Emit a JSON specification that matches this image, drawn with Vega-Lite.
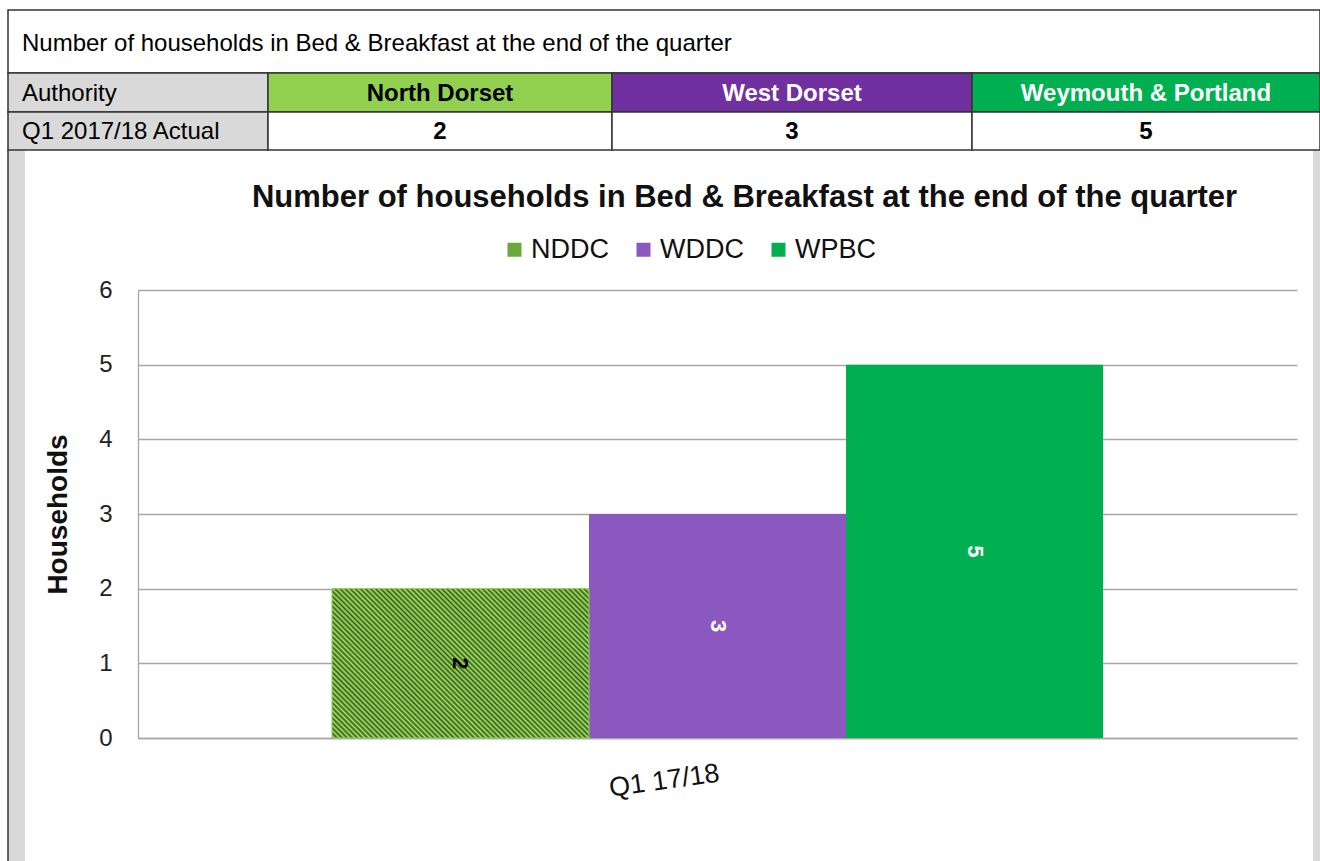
{
"$schema":"https://vega.github.io/schema/vega-lite/v6.json",
"background":"white",
"padding":{"left":7,"top":9,"right":0,"bottom":0},
"config":{"font":"Liberation Sans","view":{"stroke":null}},
"datasets":{
"authorities":[
{"authority":"North Dorset","code":"NDDC","quarter":"Q1 17/18","households":2,"c0":1,"c1":2},
{"authority":"West Dorset","code":"WDDC","quarter":"Q1 17/18","households":3,"c0":2,"c1":3},
{"authority":"Weymouth & Portland","code":"WPBC","quarter":"Q1 17/18","households":5,"c0":3,"c1":4}
],
"tabletext":[{"title":"Number of households in Bed & Breakfast at the end of the quarter","header":"Authority","rowlabel":"Q1 2017/18 Actual"}]
},
"vconcat":[
{
"width":1182,"height":140,
"layer":[
{"data":{"name":"tabletext"},"mark":{"type":"rect","fill":"#d9d9d9"},
"encoding":{"x":{"datum":0,"type":"quantitative","scale":{"domain":[0,0.05,1,2,3,3.98,4],"range":[-130,-113,130,474,834,1175,1182],"nice":false,"zero":false},"axis":null},"x2":{"datum":0.05},
"y":{"datum":3,"type":"quantitative","scale":{"domain":[0,1,2,3,4],"range":[0,63,102,140,851],"nice":false,"zero":false},"axis":null},"y2":{"datum":4}}},
{"data":{"name":"tabletext"},"mark":{"type":"rect","fill":"#d9d9d9"},
"encoding":{"x":{"datum":3.98,"type":"quantitative","axis":null},"x2":{"datum":4},"y":{"datum":3,"type":"quantitative","axis":null},"y2":{"datum":4}}},
{"data":{"name":"tabletext"},"mark":{"type":"rule","stroke":"#333333","strokeWidth":1.5},
"encoding":{"x":{"datum":0,"type":"quantitative","axis":null},"y":{"datum":3,"type":"quantitative","axis":null},"y2":{"datum":4}}},
{"data":{"name":"tabletext"},"mark":{"type":"rect","fill":"white","stroke":"#333333","strokeWidth":1.5},
"encoding":{"x":{"datum":0,"type":"quantitative","axis":null},"x2":{"datum":4},"y":{"datum":0,"type":"quantitative","axis":null},"y2":{"datum":1}}},
{"data":{"name":"tabletext"},"mark":{"type":"text","align":"left","baseline":"middle","dx":14,"dy":2,"fontSize":24,"color":"#000000"},
"encoding":{"x":{"datum":0,"type":"quantitative","axis":null},"y":{"datum":0.5,"type":"quantitative","axis":null},"text":{"field":"title"}}},
{"data":{"name":"tabletext"},"mark":{"type":"rect","fill":"#d9d9d9","stroke":"#333333","strokeWidth":1.5},
"encoding":{"x":{"datum":0,"type":"quantitative","axis":null},"x2":{"datum":1},"y":{"datum":1,"type":"quantitative","axis":null},"y2":{"datum":2}}},
{"data":{"name":"tabletext"},"mark":{"type":"text","align":"left","baseline":"middle","dx":14,"dy":1,"fontSize":24,"color":"#000000"},
"encoding":{"x":{"datum":0,"type":"quantitative","axis":null},"y":{"datum":1.5,"type":"quantitative","axis":null},"text":{"field":"header"}}},
{"data":{"name":"tabletext"},"mark":{"type":"rect","fill":"#d9d9d9","stroke":"#333333","strokeWidth":1.5},
"encoding":{"x":{"datum":0,"type":"quantitative","axis":null},"x2":{"datum":1},"y":{"datum":2,"type":"quantitative","axis":null},"y2":{"datum":3}}},
{"data":{"name":"tabletext"},"mark":{"type":"text","align":"left","baseline":"middle","dx":14,"dy":1,"fontSize":24,"color":"#000000"},
"encoding":{"x":{"datum":0,"type":"quantitative","axis":null},"y":{"datum":2.5,"type":"quantitative","axis":null},"text":{"field":"rowlabel"}}},
{"data":{"name":"authorities"},"mark":{"type":"rect","stroke":"#333333","strokeWidth":1.5},
"encoding":{"x":{"field":"c0","type":"quantitative","axis":null},"x2":{"field":"c1"},"y":{"datum":1,"type":"quantitative","axis":null},"y2":{"datum":2},
"fill":{"field":"authority","type":"nominal","scale":{"domain":["North Dorset","West Dorset","Weymouth & Portland"],"range":["#92d050","#7030a0","#00b050"]},"legend":null}}},
{"data":{"name":"authorities"},"transform":[{"calculate":"(datum.c0 + datum.c1) / 2","as":"cm"}],"mark":{"type":"text","align":"center","baseline":"middle","dy":1,"fontSize":24,"fontWeight":"bold"},
"encoding":{"x":{"field":"cm","type":"quantitative","axis":null},"y":{"datum":1.5,"type":"quantitative","axis":null},"text":{"field":"authority"},
"color":{"condition":{"test":"datum.code === 'NDDC'","value":"#000000"},"value":"#ffffff"}}},
{"data":{"name":"authorities"},"mark":{"type":"rect","fill":"white","stroke":"#333333","strokeWidth":1.5},
"encoding":{"x":{"field":"c0","type":"quantitative","axis":null},"x2":{"field":"c1"},"y":{"datum":2,"type":"quantitative","axis":null},"y2":{"datum":3}}},
{"data":{"name":"authorities"},"transform":[{"calculate":"(datum.c0 + datum.c1) / 2","as":"cm"}],"mark":{"type":"text","align":"center","baseline":"middle","dy":1,"fontSize":24,"fontWeight":"bold","color":"#000000"},
"encoding":{"x":{"field":"cm","type":"quantitative","axis":null},"y":{"datum":2.5,"type":"quantitative","axis":null},"text":{"field":"households"}}}
]
},
{
"width":1159,"height":448,
"data":{"name":"authorities"},
"title":{"text":"Number of households in Bed & Breakfast at the end of the quarter","fontSize":31,"fontWeight":"bold","color":"#111111","anchor":"middle","frame":"group","dx":27,"offset":22,"font":"Liberation Sans"},
"encoding":{
"x":{"field":"quarter","type":"nominal","title":null,"scale":{"paddingOuter":0.2516,"paddingInner":0},
"axis":{"labelAngle":-8,"labelAlign":"right","labelBaseline":"top","labelFontSize":27,"labelPadding":22,"labelColor":"#111111","ticks":false,"domainColor":"#a6a6a6","domainWidth":1.3,"grid":false}},
"xOffset":{"field":"code","type":"nominal","scale":{"domain":["NDDC","WDDC","WPBC"],"paddingInner":0,"paddingOuter":0}}
},
"layer":[
{"mark":{"type":"bar"},
"encoding":{
"y":{"field":"households","type":"quantitative","stack":null,"scale":{"domain":[0,6],"nice":false},
"axis":{"title":"Households","format":"d","titleFontSize":28,"titleFontWeight":"bold","titleColor":"#111111","titlePadding":26,"labelFontSize":24,"labelPadding":26,"labelColor":"#222222","ticks":false,"values":[0,1,2,3,4,5,6],"gridColor":"#a6a6a6","gridWidth":1.3,"domainColor":"#a6a6a6","domainWidth":1.3}},
"color":{"field":"code","type":"nominal","scale":{"domain":["NDDC","WDDC","WPBC"],"range":["#6aa83c","#8a58bf","#00b050"]},
"legend":{"orient":"none","legendX":363,"legendY":-54,"direction":"horizontal","title":null,"labelFontSize":27,"labelColor":"#111111","labelFont":"Liberation Sans","symbolType":"square","symbolSize":196,"symbolStrokeWidth":0,"labelOffset":3,"columnPadding":21}}}},
{"transform":[{"filter":"datum.code === 'NDDC'"}],
"mark":{"type":"bar","stroke":"#92d050","strokeWidth":1,"fill":{"gradient":"linear","x1":0,"y1":1,"x2":1.182,"y2":0.312,"stops":[
{"offset":0,"color":"#3a581f"},{"offset":0.00625,"color":"#9ee85e"},{"offset":0.0125,"color":"#3a581f"},{"offset":0.01875,"color":"#9ee85e"},
{"offset":0.025,"color":"#3a581f"},{"offset":0.03125,"color":"#9ee85e"},{"offset":0.0375,"color":"#3a581f"},{"offset":0.04375,"color":"#9ee85e"},
{"offset":0.05,"color":"#3a581f"},{"offset":0.05625,"color":"#9ee85e"},{"offset":0.0625,"color":"#3a581f"},{"offset":0.06875,"color":"#9ee85e"},
{"offset":0.075,"color":"#3a581f"},{"offset":0.08125,"color":"#9ee85e"},{"offset":0.0875,"color":"#3a581f"},{"offset":0.09375,"color":"#9ee85e"},
{"offset":0.1,"color":"#3a581f"},{"offset":0.10625,"color":"#9ee85e"},{"offset":0.1125,"color":"#3a581f"},{"offset":0.11875,"color":"#9ee85e"},
{"offset":0.125,"color":"#3a581f"},{"offset":0.13125,"color":"#9ee85e"},{"offset":0.1375,"color":"#3a581f"},{"offset":0.14375,"color":"#9ee85e"},
{"offset":0.15,"color":"#3a581f"},{"offset":0.15625,"color":"#9ee85e"},{"offset":0.1625,"color":"#3a581f"},{"offset":0.16875,"color":"#9ee85e"},
{"offset":0.175,"color":"#3a581f"},{"offset":0.18125,"color":"#9ee85e"},{"offset":0.1875,"color":"#3a581f"},{"offset":0.19375,"color":"#9ee85e"},
{"offset":0.2,"color":"#3a581f"},{"offset":0.20625,"color":"#9ee85e"},{"offset":0.2125,"color":"#3a581f"},{"offset":0.21875,"color":"#9ee85e"},
{"offset":0.225,"color":"#3a581f"},{"offset":0.23125,"color":"#9ee85e"},{"offset":0.2375,"color":"#3a581f"},{"offset":0.24375,"color":"#9ee85e"},
{"offset":0.25,"color":"#3a581f"},{"offset":0.25625,"color":"#9ee85e"},{"offset":0.2625,"color":"#3a581f"},{"offset":0.26875,"color":"#9ee85e"},
{"offset":0.275,"color":"#3a581f"},{"offset":0.28125,"color":"#9ee85e"},{"offset":0.2875,"color":"#3a581f"},{"offset":0.29375,"color":"#9ee85e"},
{"offset":0.3,"color":"#3a581f"},{"offset":0.30625,"color":"#9ee85e"},{"offset":0.3125,"color":"#3a581f"},{"offset":0.31875,"color":"#9ee85e"},
{"offset":0.325,"color":"#3a581f"},{"offset":0.33125,"color":"#9ee85e"},{"offset":0.3375,"color":"#3a581f"},{"offset":0.34375,"color":"#9ee85e"},
{"offset":0.35,"color":"#3a581f"},{"offset":0.35625,"color":"#9ee85e"},{"offset":0.3625,"color":"#3a581f"},{"offset":0.36875,"color":"#9ee85e"},
{"offset":0.375,"color":"#3a581f"},{"offset":0.38125,"color":"#9ee85e"},{"offset":0.3875,"color":"#3a581f"},{"offset":0.39375,"color":"#9ee85e"},
{"offset":0.4,"color":"#3a581f"},{"offset":0.40625,"color":"#9ee85e"},{"offset":0.4125,"color":"#3a581f"},{"offset":0.41875,"color":"#9ee85e"},
{"offset":0.425,"color":"#3a581f"},{"offset":0.43125,"color":"#9ee85e"},{"offset":0.4375,"color":"#3a581f"},{"offset":0.44375,"color":"#9ee85e"},
{"offset":0.45,"color":"#3a581f"},{"offset":0.45625,"color":"#9ee85e"},{"offset":0.4625,"color":"#3a581f"},{"offset":0.46875,"color":"#9ee85e"},
{"offset":0.475,"color":"#3a581f"},{"offset":0.48125,"color":"#9ee85e"},{"offset":0.4875,"color":"#3a581f"},{"offset":0.49375,"color":"#9ee85e"},
{"offset":0.5,"color":"#3a581f"},{"offset":0.50625,"color":"#9ee85e"},{"offset":0.5125,"color":"#3a581f"},{"offset":0.51875,"color":"#9ee85e"},
{"offset":0.525,"color":"#3a581f"},{"offset":0.53125,"color":"#9ee85e"},{"offset":0.5375,"color":"#3a581f"},{"offset":0.54375,"color":"#9ee85e"},
{"offset":0.55,"color":"#3a581f"},{"offset":0.55625,"color":"#9ee85e"},{"offset":0.5625,"color":"#3a581f"},{"offset":0.56875,"color":"#9ee85e"},
{"offset":0.575,"color":"#3a581f"},{"offset":0.58125,"color":"#9ee85e"},{"offset":0.5875,"color":"#3a581f"},{"offset":0.59375,"color":"#9ee85e"},
{"offset":0.6,"color":"#3a581f"},{"offset":0.60625,"color":"#9ee85e"},{"offset":0.6125,"color":"#3a581f"},{"offset":0.61875,"color":"#9ee85e"},
{"offset":0.625,"color":"#3a581f"},{"offset":0.63125,"color":"#9ee85e"},{"offset":0.6375,"color":"#3a581f"},{"offset":0.64375,"color":"#9ee85e"},
{"offset":0.65,"color":"#3a581f"},{"offset":0.65625,"color":"#9ee85e"},{"offset":0.6625,"color":"#3a581f"},{"offset":0.66875,"color":"#9ee85e"},
{"offset":0.675,"color":"#3a581f"},{"offset":0.68125,"color":"#9ee85e"},{"offset":0.6875,"color":"#3a581f"},{"offset":0.69375,"color":"#9ee85e"},
{"offset":0.7,"color":"#3a581f"},{"offset":0.70625,"color":"#9ee85e"},{"offset":0.7125,"color":"#3a581f"},{"offset":0.71875,"color":"#9ee85e"},
{"offset":0.725,"color":"#3a581f"},{"offset":0.73125,"color":"#9ee85e"},{"offset":0.7375,"color":"#3a581f"},{"offset":0.74375,"color":"#9ee85e"},
{"offset":0.75,"color":"#3a581f"},{"offset":0.75625,"color":"#9ee85e"},{"offset":0.7625,"color":"#3a581f"},{"offset":0.76875,"color":"#9ee85e"},
{"offset":0.775,"color":"#3a581f"},{"offset":0.78125,"color":"#9ee85e"},{"offset":0.7875,"color":"#3a581f"},{"offset":0.79375,"color":"#9ee85e"},
{"offset":0.8,"color":"#3a581f"},{"offset":0.80625,"color":"#9ee85e"},{"offset":0.8125,"color":"#3a581f"},{"offset":0.81875,"color":"#9ee85e"},
{"offset":0.825,"color":"#3a581f"},{"offset":0.83125,"color":"#9ee85e"},{"offset":0.8375,"color":"#3a581f"},{"offset":0.84375,"color":"#9ee85e"},
{"offset":0.85,"color":"#3a581f"},{"offset":0.85625,"color":"#9ee85e"},{"offset":0.8625,"color":"#3a581f"},{"offset":0.86875,"color":"#9ee85e"},
{"offset":0.875,"color":"#3a581f"},{"offset":0.88125,"color":"#9ee85e"},{"offset":0.8875,"color":"#3a581f"},{"offset":0.89375,"color":"#9ee85e"},
{"offset":0.9,"color":"#3a581f"},{"offset":0.90625,"color":"#9ee85e"},{"offset":0.9125,"color":"#3a581f"},{"offset":0.91875,"color":"#9ee85e"},
{"offset":0.925,"color":"#3a581f"},{"offset":0.93125,"color":"#9ee85e"},{"offset":0.9375,"color":"#3a581f"},{"offset":0.94375,"color":"#9ee85e"},
{"offset":0.95,"color":"#3a581f"},{"offset":0.95625,"color":"#9ee85e"},{"offset":0.9625,"color":"#3a581f"},{"offset":0.96875,"color":"#9ee85e"},
{"offset":0.975,"color":"#3a581f"},{"offset":0.98125,"color":"#9ee85e"},{"offset":0.9875,"color":"#3a581f"},{"offset":0.99375,"color":"#9ee85e"},
{"offset":1,"color":"#3a581f"}]}},
"encoding":{"y":{"field":"households","type":"quantitative","stack":null}}},
{"transform":[{"calculate":"datum.households / 2","as":"mid"}],
"mark":{"type":"text","angle":90,"fontSize":22,"fontWeight":"bold","align":"center","baseline":"middle"},
"encoding":{"y":{"field":"mid","type":"quantitative","title":"Households"},"text":{"field":"households"},
"color":{"condition":{"test":"datum.code === 'NDDC'","value":"#000000"},"value":"#ffffff"}}}
]
}
],
"spacing":140,
"bounds":"flush",
"resolve":{"scale":{"color":"independent","fill":"independent"},"legend":{"color":"independent","fill":"independent"}}
}
